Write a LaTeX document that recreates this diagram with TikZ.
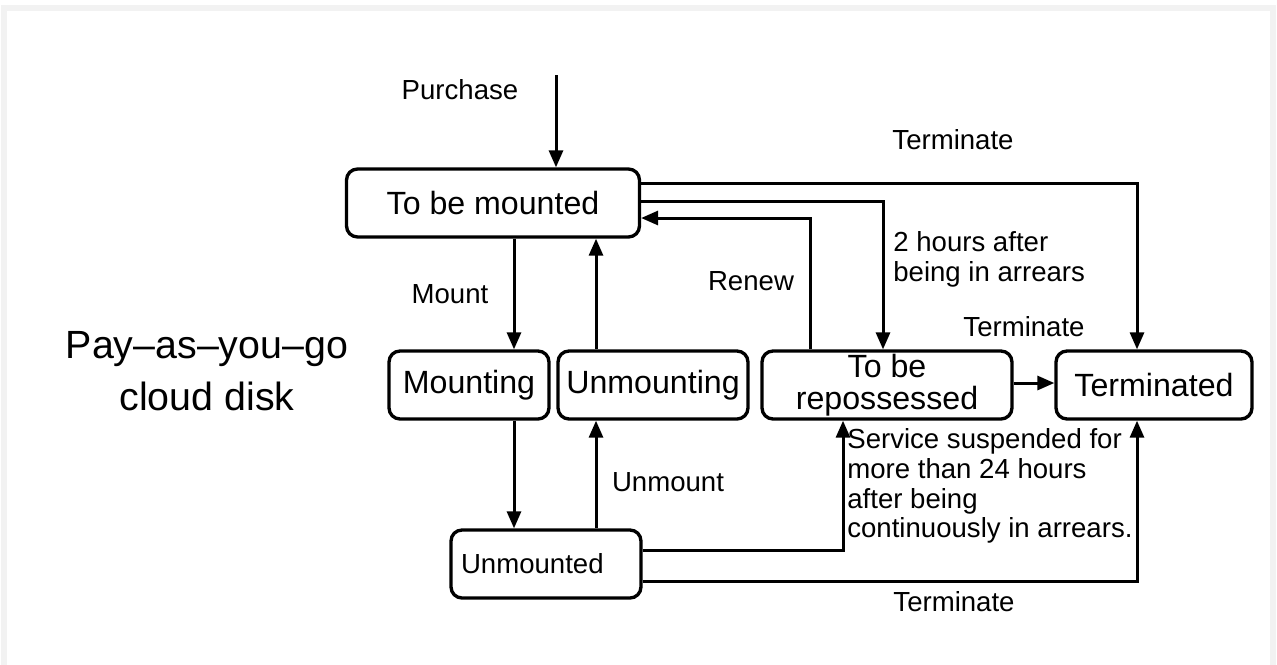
\documentclass[tikz,border=0pt]{standalone}
\usepackage{fontspec}
\setmainfont{Liberation Sans}
\usetikzlibrary{arrows.meta}

\begin{document}
\begin{tikzpicture}[x=0.02cm, y=-0.02cm,
    state/.style={draw, line width=1.9pt, rounded corners=0.22cm, inner sep=0pt,
      minimum height=1.36cm, align=center, font=\fontsize{18.3}{18.5}\selectfont},
    arr/.style={line width=1.7pt, -{Triangle[length=0.34cm, width=0.28cm]}},
    lbl/.style={inner sep=0pt, align=left, font=\fontsize{15.7}{17}\selectfont}]
    % Marco
    \useasboundingbox (0,0) rectangle (1277,664);
    \draw[gray!10, line width=3pt] (4,668) -- (4,8) -- (1273,8) -- (1273,668);

    % Titulo
    \node[align=center, font=\fontsize{22.4}{30}\selectfont] (title) at (207,371) {Pay–as–you–go\\cloud disk};

    % Estados
    \node[state, minimum width=5.86cm] (mounted) at (493,203) {To be mounted};
    \node[state, minimum width=3.2cm] (mounting) at (469,385) {Mounting};
    \node[state, minimum width=3.8cm] (unmounting) at (653,385) {Unmounting};
    \node[state, minimum width=5cm] (repo) at (887,385) {To be\\repossessed};
    \node[state, minimum width=3.92cm] (terminated) at (1154,385) {Terminated};
    \node[state, minimum width=3.8cm, text width=3.4cm, align=left,
      font=\fontsize{15.7}{17}\selectfont] (unmounted) at (546,564) {Unmounted};

    % Columnas y filas de las flechas
    \coordinate (purchase) at (556,75);
    \coordinate (cmount) at (514,0);
    \coordinate (cunmount) at (596,0);
    \coordinate (crenew) at (810,0);
    \coordinate (carrears) at (883,0);
    \coordinate (csuspend) at (843,0);
    \coordinate (cterm) at (1137,0);
    \coordinate (rterm) at (0,183);
    \coordinate (rarrears) at (0,201);
    \coordinate (rrenew) at (0,218);
    \coordinate (rsuspend) at (0,550);
    \coordinate (rbottom) at (0,581);

    % Flechas
    \draw[arr] (purchase) -- (purchase |- mounted.north);
    \draw[arr] (mounted.south -| cmount) -- (mounting.north -| cmount);
    \draw[arr] (mounting.south -| cmount) -- (unmounted.north -| cmount);
    \draw[arr] (unmounted.north -| cunmount) -- (unmounting.south -| cunmount);
    \draw[arr] (unmounting.north -| cunmount) -- (mounted.south -| cunmount);
    \draw[arr] (mounted.east |- rterm) -| (terminated.north -| cterm);
    \draw[arr] (mounted.east |- rarrears) -| (repo.north -| carrears);
    \draw[arr] (repo.north -| crenew) |- (mounted.east |- rrenew);
    \draw[arr] (repo.east |- 0,383) -- (terminated.west |- 0,383);
    \draw[arr] (unmounted.east |- rsuspend) -| (repo.south -| csuspend);
    \draw[arr] (unmounted.east |- rbottom) -| (terminated.south -| cterm);

    % Etiquetas
    \node[lbl] (lpurchase) at (460,90) {Purchase};
    \node[lbl] (lmount) at (450,294) {Mount};
    \node[lbl] (lunmount) at (668,482) {Unmount};
    \node[lbl] (lrenew) at (751,281) {Renew};
    \node[lbl] (lterm1) at (953,140) {Terminate};
    \node[lbl] (lterm2) at (1024,327) {Terminate};
    \node[lbl] (lterm3) at (954,602) {Terminate};
    \node[lbl, anchor=west] (larrears) at (893,259) {2 hours after\\being in arrears};
    \node[lbl, anchor=west] (lsuspend) at (847,486) {Service suspended for\\more than 24 hours\\after being\\continuously in arrears.};
\end{tikzpicture}
\end{document}
